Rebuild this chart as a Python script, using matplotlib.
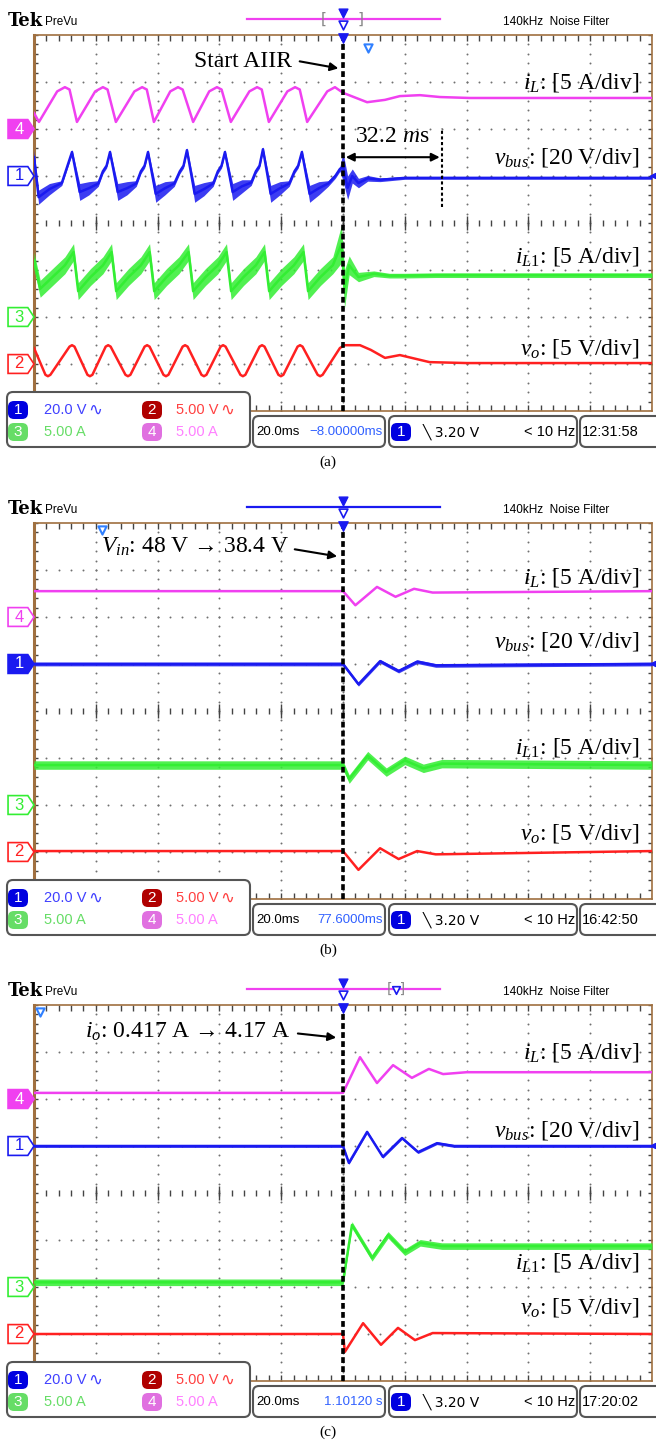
import numpy as np
import matplotlib.pyplot as plt
from matplotlib.patches import FancyBboxPatch, Polygon
from matplotlib.transforms import blended_transform_factory

plt.rcParams['mathtext.fontset'] = 'custom'
plt.rcParams['mathtext.rm'] = 'Liberation Serif'
plt.rcParams['mathtext.it'] = 'Liberation Serif:italic'

# ---------------- data: time in ms (trigger at 0), level in divisions ----------------
# panel (a): start AIIR
a_il_t = [-100, -98.4, -92.5, -90.0, -88.5, -86.1, -80.2, -77.7, -76.2, -73.5, -67.5, -65.0, -63.5,
          -61.2, -55.9, -53.4, -51.9, -48.5, -43.3, -40.8, -39.3, -36.3, -30.3, -27.8, -26.3,
          -24.0, -18.0, -15.5, -14.0, -11.6, -5.1, -2.6, 0.0, 7.8, 13.6, 18.4, 24.9, 31.4, 41.0, 100]
a_il_v = [2.34, 2.15, 2.80, 2.89, 2.84, 2.15, 2.80, 2.89, 2.84, 2.15, 2.80, 2.89, 2.84,
          2.15, 2.80, 2.89, 2.84, 2.15, 2.80, 2.89, 2.84, 2.15, 2.80, 2.89, 2.84,
          2.15, 2.80, 2.89, 2.84, 2.15, 2.80, 2.89, 2.77, 2.57, 2.62, 2.70, 2.72, 2.68, 2.66, 2.66]

a_vb_t = [-100, -98.5, -95.0, -91.0, -89.5,
          -87.7, -85.2, -82.2, -79.2, -77.7, -76.5,
          -75.4, -72.9, -69.9, -66.9, -65.4, -64.2,
          -63.1, -60.6, -57.6, -54.6, -52.8, -51.6,
          -50.5, -48.0, -45.0, -42.0, -40.5, -39.3,
          -38.2, -35.7, -32.7, -29.7, -28.2, -27.0,
          -25.9, -23.4, -20.4, -17.4, -15.7, -14.5,
          -13.3, -10.8, -7.8, -4.8, -2.5, -1.0,
          0.0, 1.5, 3.0, 5.0, 8.0, 12.0, 20.0, 100]
a_vb_v = [1.40, 0.55, 0.72, 0.85, 1.15,
          1.51, 0.66, 0.74, 0.84, 1.10, 1.22,
          1.51, 0.66, 0.74, 0.84, 1.10, 1.22,
          1.51, 0.62, 0.74, 0.84, 1.10, 1.22,
          1.55, 0.62, 0.72, 0.84, 1.10, 1.22,
          1.51, 0.66, 0.78, 0.86, 1.10, 1.22,
          1.57, 0.62, 0.74, 0.84, 1.10, 1.22,
          1.51, 0.62, 0.74, 0.84, 1.00, 1.15,
          1.20, 0.75, 1.00, 0.85, 0.95, 0.92, 0.96, 0.96]
a_vb_n = [0.15, 0.15, 0.12, 0.05, 0.05,
          0.05, 0.18, 0.14, 0.06, 0.05, 0.05,
          0.05, 0.18, 0.14, 0.06, 0.05, 0.05,
          0.05, 0.18, 0.14, 0.06, 0.05, 0.05,
          0.05, 0.18, 0.14, 0.06, 0.05, 0.05,
          0.05, 0.18, 0.14, 0.06, 0.05, 0.05,
          0.05, 0.18, 0.14, 0.06, 0.05, 0.05,
          0.05, 0.18, 0.14, 0.06, 0.05, 0.05,
          0.30, 0.25, 0.15, 0.10, 0.06, 0.04, 0.03, 0.03]

a_il1_t = [-100, -98.0, -94.0, -90.0, -87.2, -85.7, -81.7, -77.7, -74.9, -73.4, -69.4, -65.4,
           -62.6, -61.1, -57.1, -53.1, -50.0, -48.5, -44.5, -40.5, -37.7, -36.2, -32.2, -28.2,
           -25.4, -23.9, -19.9, -15.9, -12.8, -11.3, -7.3, -3.3, -0.5, 0.5, 2.0, 5.0, 10.0, 15.0,
           20.0, 30.0, 100]
a_il1_v = [-0.80, -1.40, -1.15, -0.90, -0.62, -1.45, -1.15, -0.90, -0.62, -1.45, -1.15, -0.90,
           -0.62, -1.45, -1.15, -0.90, -0.62, -1.45, -1.15, -0.90, -0.62, -1.45, -1.15, -0.90,
           -0.62, -1.45, -1.15, -0.90, -0.62, -1.45, -1.15, -0.90, -0.45, -1.40, -0.90, -1.15,
           -1.08, -1.12, -1.12, -1.11, -1.11]
a_il1_n = [0.18] * 32 + [0.40, 0.40, 0.20, 0.10, 0.06, 0.05, 0.05, 0.05, 0.05]

a_vo_t = [-100,
          -96.3, -95.5, -94.7, -88.5, -87.7, -86.9,
          -82.7, -81.9, -81.1, -76.8, -76.0, -75.2,
          -70.4, -69.6, -68.8, -64.2, -63.4, -62.6,
          -58.1, -57.3, -56.5, -51.9, -51.1, -50.3,
          -45.8, -45.0, -44.2, -39.6, -38.8, -38.0,
          -33.2, -32.4, -31.6, -27.0, -26.2, -25.4,
          -20.9, -20.1, -19.3, -14.7, -13.9, -13.1,
          -8.2, -7.4, -6.6,
          -1.0, 0.5, 5.5, 9.0, 13.6, 18.4, 28.0, 40.0, 100]
a_vo_v = [-2.66,
          -3.23, -3.26, -3.23, -2.63, -2.60, -2.63,
          -3.23, -3.26, -3.23, -2.63, -2.60, -2.63,
          -3.23, -3.26, -3.23, -2.63, -2.60, -2.63,
          -3.23, -3.26, -3.23, -2.63, -2.60, -2.63,
          -3.23, -3.26, -3.23, -2.63, -2.60, -2.63,
          -3.23, -3.26, -3.23, -2.63, -2.60, -2.63,
          -3.23, -3.26, -3.23, -2.63, -2.60, -2.63,
          -3.23, -3.26, -3.23,
          -2.66, -2.60, -2.60, -2.70, -2.87, -2.81, -2.96, -2.98, -2.98]

# panel (b): input voltage step
b_il_t = [-100, 0.0, 4.0, 11.0, 17.0, 23.0, 29.0, 100]
b_il_v = [2.55, 2.55, 2.25, 2.64, 2.43, 2.60, 2.52, 2.55]
b_vb_t = [-100, 0.0, 5.0, 12.0, 18.0, 24.0, 30.0, 100]
b_vb_v = [1.00, 1.00, 0.57, 1.06, 0.85, 1.05, 0.97, 1.00]
b_il1_t = [-100, 0.0, 2.0, 8.0, 14.0, 20.0, 26.0, 32.0, 100]
b_il1_v = [-1.15, -1.15, -1.45, -0.95, -1.30, -1.05, -1.22, -1.12, -1.15]
b_vo_t = [-100, 0.0, 5.0, 12.0, 18.0, 24.0, 30.0, 100]
b_vo_v = [-2.98, -2.98, -3.38, -2.92, -3.15, -2.98, -3.05, -2.98]

# panel (c): load step
c_il_t = [-100, 0.0, 5.5, 11.0, 16.2, 22.3, 27.8, 32.4, 40.0, 100]
c_il_v = [2.13, 2.13, 2.89, 2.34, 2.72, 2.45, 2.64, 2.53, 2.57, 2.57]
c_vb_t = [-100, 0.0, 1.9, 7.8, 12.9, 19.1, 24.3, 30.4, 36.0, 100]
c_vb_v = [1.00, 1.00, 0.64, 1.30, 0.77, 1.17, 0.87, 1.06, 1.00, 1.00]
c_il1_t = [-100, 0.0, 2.9, 9.4, 14.6, 20.0, 25.0, 32.0, 100]
c_il1_v = [-1.90, -1.90, -0.68, -1.38, -0.89, -1.26, -1.06, -1.13, -1.13]
c_vo_t = [-100, 0.0, 0.6, 6.5, 12.3, 17.8, 23.3, 29.0, 100]
c_vo_v = [-3.00, -3.00, -3.38, -2.77, -3.23, -2.87, -3.13, -2.98, -3.00]

# channel marker levels (div) and whether filled, per panel: ch4, ch1, ch3, ch2
marker_levels = [[2, 1, -2, -3], [2, 1, -2, -3], [2, 1, -2, -3]]
marker_filled = [[True, False, False, False], [False, True, False, False], [True, False, False, False]]
label_levels = [[2.98, 1.40, -0.72, -2.66], [2.85, 1.47, -0.77, -2.60], [2.98, 1.34, -1.47, -2.43]]
status_pos = ['\u22128.00000ms', '77.6000ms', '1.10120 s']
status_clock = ['12:31:58', '16:42:50', '17:20:02']
captions = ['(a)', '(b)', '(c)']

MAG, BLU, GRN, RED = '#f040f0', '#1a1af0', '#33ee33', '#ff2020'
SANS = 'Liberation Sans'
SERIF = 'Liberation Serif'

W, H = 656, 1448
fig = plt.figure(figsize=(W / 100, H / 100), dpi=100)
ov = fig.add_axes([0, 0, 1, 1])
ov.set_xlim(0, W)
ov.set_ylim(H, 0)
ov.axis('off')
ov.set_zorder(10)
ov.patch.set_alpha(0)


def graticule(ax):
    ax.set_xlim(-100, 100)
    ax.set_ylim(-4, 4)
    ax.set_xticks([])
    ax.set_yticks([])
    for s in ax.spines.values():
        s.set_color('#a07040')
        s.set_linewidth(1.2)
    ax.spines['left'].set_linewidth(2.2)
    mx = np.arange(-100, 100.1, 4)
    my = np.arange(-4, 4.01, 0.2)
    for gx in range(-80, 81, 20):
        ax.scatter(np.full(len(my), gx), my, s=2, c='#707070', lw=0, zorder=1)
    for gy in [-3, -2, -1, 1, 2, 3]:
        ax.scatter(mx, np.full(len(mx), gy), s=2, c='#707070', lw=0, zorder=1)
    ax.vlines(mx, -0.07, 0.07, color='#444444', lw=1, zorder=1)
    ax.vlines(np.arange(-80, 81, 20), -0.15, 0.15, color='#444444', lw=1, zorder=1)
    ax.vlines(mx, 3.88, 4, color='#444444', lw=1, zorder=1)
    ax.vlines(mx, -4, -3.88, color='#444444', lw=1, zorder=1)
    ax.hlines(my, -100, -98.6, color='#444444', lw=1, zorder=1)
    ax.hlines(my, 98.6, 100, color='#444444', lw=1, zorder=1)


def chmark(ax, y, num, color, filled):
    tr = blended_transform_factory(ax.transAxes, ax.transData)
    pts = [(-0.042, y - 0.2), (-0.01, y - 0.2), (0, y), (-0.01, y + 0.2), (-0.042, y + 0.2)]
    face = color if filled else 'white'
    ax.add_patch(Polygon(pts, closed=True, transform=tr, facecolor=face, edgecolor=color,
                         lw=1.2, clip_on=False, zorder=5))
    ax.text(-0.024, y, num, transform=tr, color='white' if filled else color, fontsize=12,
            ha='center', va='center', family=SANS, clip_on=False, zorder=6)


def trace(ax, t, v, color, noise=None, lw=1.8):
    if noise is not None:
        v0 = np.array(v)
        n = np.array(noise)
        ax.fill_between(t, v0 - n, v0 + n, color=color, lw=0, alpha=0.85, zorder=3)
    ax.plot(t, v, color=color, lw=lw, zorder=3, solid_joinstyle='round')


def badge(x, y, num, color):
    ov.add_patch(FancyBboxPatch((x, y - 9), 20, 18, boxstyle='round,pad=0,rounding_size=6',
                                facecolor=color, edgecolor='none', zorder=5))
    ov.text(x + 10, y, num, color='white', fontsize=11, ha='center', va='center', family=SANS, zorder=6)


def box(x0, y0, x1, y1):
    ov.add_patch(FancyBboxPatch((x0, y0), x1 - x0, y1 - y0,
                                boxstyle='round,pad=0,rounding_size=6',
                                facecolor='white', edgecolor='#555555', lw=1.5, zorder=4))


panels = [
    ([a_il_t, a_vb_t, a_il1_t, a_vo_t], [a_il_v, a_vb_v, a_il1_v, a_vo_v], [None, a_vb_n, a_il1_n, None]),
    ([b_il_t, b_vb_t, b_il1_t, b_vo_t], [b_il_v, b_vb_v, b_il1_v, b_vo_v], [None, [0.04] * 8, [0.09] * 9, None]),
    ([c_il_t, c_vb_t, c_il1_t, c_vo_t], [c_il_v, c_vb_v, c_il1_v, c_vo_v], [None, [0.03] * 10, [0.07] * 9, None]),
]
offsets = [0, 488, 970]
header_line = [MAG, BLU, MAG]
small_mark = [(368, 48), (102, 530), (40, 1012)]
colors = [MAG, BLU, GRN, RED]
nums = ['4', '1', '3', '2']
labels = ['$i_L$: [5 A/div]', '$v_{bus}$: [20 V/div]', '$i_{L1}$: [5 A/div]', '$v_o$: [5 V/div]']

for k, (ts, vs, ns) in enumerate(panels):
    off = offsets[k]
    top = 35 + off
    ax = fig.add_axes([34 / W, 1 - (top + 376) / H, 618 / W, 376 / H])
    graticule(ax)
    for ts_, vs_, ns_, col in zip(ts, vs, ns, colors):
        trace(ax, ts_, vs_, col, ns_)
    ax.axvline(0, color='black', lw=2.6, ls=(0, (1.6, 0.9)), zorder=7)
    ax.scatter([0], [3.93], marker='v', s=45, c=BLU, zorder=8, clip_on=False)
    for lvl, num, col, fil in zip(marker_levels[k], nums, colors, marker_filled[k]):
        chmark(ax, lvl, num, col, fil)
    for lvl, lab in zip(label_levels[k], labels):
        ax.text(96, lvl, lab, ha='right', va='center', fontsize=17, family=SERIF, zorder=6)
    # ch1 level arrow at right edge
    ax.annotate('', xy=(98.2, 1.0), xytext=(101.5, 1.0),
                arrowprops=dict(arrowstyle='-|>', color=BLU, lw=1.3, mutation_scale=8),
                annotation_clip=False, zorder=6)

    # header
    ov.text(8, 21 + off, 'Tek', fontsize=13, fontweight='bold', family='DejaVu Serif', va='center')
    ov.text(45, 22 + off, 'PreVu', fontsize=8.5, family=SANS, va='center')
    ov.plot([247, 440], [19 + off, 19 + off], color=header_line[k], lw=1.6)
    ov.text(503, 22 + off, '140kHz  Noise Filter', fontsize=8.5, family=SANS, va='center')
    ov.scatter([343], [13 + off], marker='v', s=40, c=BLU, zorder=5)
    ov.scatter([343], [25 + off], marker='v', s=40, facecolors='white', edgecolors=BLU, lw=1.2, zorder=5)
    if k == 0:
        ov.text(324, 19 + off, '[', color='#888888', fontsize=11, ha='center', va='center')
        ov.text(361, 19 + off, ']', color='#888888', fontsize=11, ha='center', va='center')
    if k == 2:
        ov.text(396, 19 + off, '[\u2009 ]', color='#888888', fontsize=10, ha='center', va='center')
        ov.scatter([396], [20 + off], marker='v', s=30, facecolors='white', edgecolors=BLU, lw=1.2, zorder=5)
    ov.scatter([small_mark[k][0]], [small_mark[k][1]], marker='v', s=35, facecolors='white',
               edgecolors='#3080ff', lw=1.5, zorder=5)

    # status bar
    box(7, 392 + off, 250, 447 + off)
    box(253, 416 + off, 385, 447 + off)
    box(389, 416 + off, 577, 447 + off)
    box(580, 416 + off, 670, 447 + off)
    y1, y2 = 410 + off, 432 + off
    fs = 10.5
    badge(8, y1, '1', '#0000e0')
    ov.text(44, y1, '20.0 V', color='#4040ff', fontsize=fs, family=SANS, va='center', zorder=5)
    ov.text(88, y1, '\u223f', color='#4040ff', fontsize=12, family='DejaVu Sans', va='center', zorder=5)
    badge(142, y1, '2', '#b00000')
    ov.text(176, y1, '5.00 V', color='#ff4040', fontsize=fs, family=SANS, va='center', zorder=5)
    ov.text(220, y1, '\u223f', color='#ff4040', fontsize=12, family='DejaVu Sans', va='center', zorder=5)
    badge(8, y2, '3', '#66dd66')
    ov.text(44, y2, '5.00 A', color='#66dd66', fontsize=fs, family=SANS, va='center', zorder=5)
    badge(142, y2, '4', '#e070e0')
    ov.text(176, y2, '5.00 A', color='#ff80ff', fontsize=fs, family=SANS, va='center', zorder=5)
    ov.text(256, y2, '20.0ms', color='black', fontsize=9.5, family=SANS, va='center', zorder=5)
    ov.text(383, y2, status_pos[k], color='#3060ff', fontsize=9.5, family=SANS, va='center', ha='right', zorder=5)
    badge(391, y2, '1', '#0000e0')
    ov.text(423, y2, '\u2572 3.20 V', color='black', fontsize=10, family=['DejaVu Sans'], va='center', zorder=5)
    ov.text(575, y2, '< 10 Hz', color='black', fontsize=fs, family=SANS, va='center', ha='right', zorder=5)
    ov.text(582, y2, status_clock[k], color='black', fontsize=fs, family=SANS, va='center', zorder=5)
    ov.text(328, 462 + off, captions[k], fontsize=11, family=SERIF, ha='center', va='center')

    if k == 0:
        ax.annotate('', xy=(-0.6, 3.28), xytext=(-14.9, 3.45),
                    arrowprops=dict(arrowstyle='-|>', color='black', lw=1.5, mutation_scale=12), zorder=8)
        ax.text(-32.4, 3.43, 'Start AIIR', fontsize=17, family=SERIF, ha='center', va='center')
        ax.annotate('', xy=(32.2, 1.40), xytext=(0, 1.40),
                    arrowprops=dict(arrowstyle='<|-|>', color='black', lw=1.5, mutation_scale=12), zorder=8)
        ax.plot([32.2, 32.2], [0.34, 2.02], color='black', lw=1.5, ls=(0, (1.5, 1.2)), zorder=8)
        ax.text(15.9, 1.85, '32.2 $m$s', fontsize=17, family=SERIF, ha='center', va='center')
    elif k == 1:
        ax.annotate('', xy=(-1.0, 3.28), xytext=(-16.5, 3.45),
                    arrowprops=dict(arrowstyle='-|>', color='black', lw=1.5, mutation_scale=12), zorder=8)
        ax.text(-47.9, 3.49, '$V_{in}$: 48 V \u2192 38.4 V', fontsize=17, family=SERIF, ha='center', va='center')
    else:
        ax.annotate('', xy=(-1.3, 3.30), xytext=(-15.5, 3.40),
                    arrowprops=dict(arrowstyle='-|>', color='black', lw=1.5, mutation_scale=12), zorder=8)
        ax.text(-50.2, 3.43, '$i_o$: 0.417 A \u2192 4.17 A', fontsize=17, family=SERIF, ha='center', va='center')

fig.savefig('out.png', dpi=100)
